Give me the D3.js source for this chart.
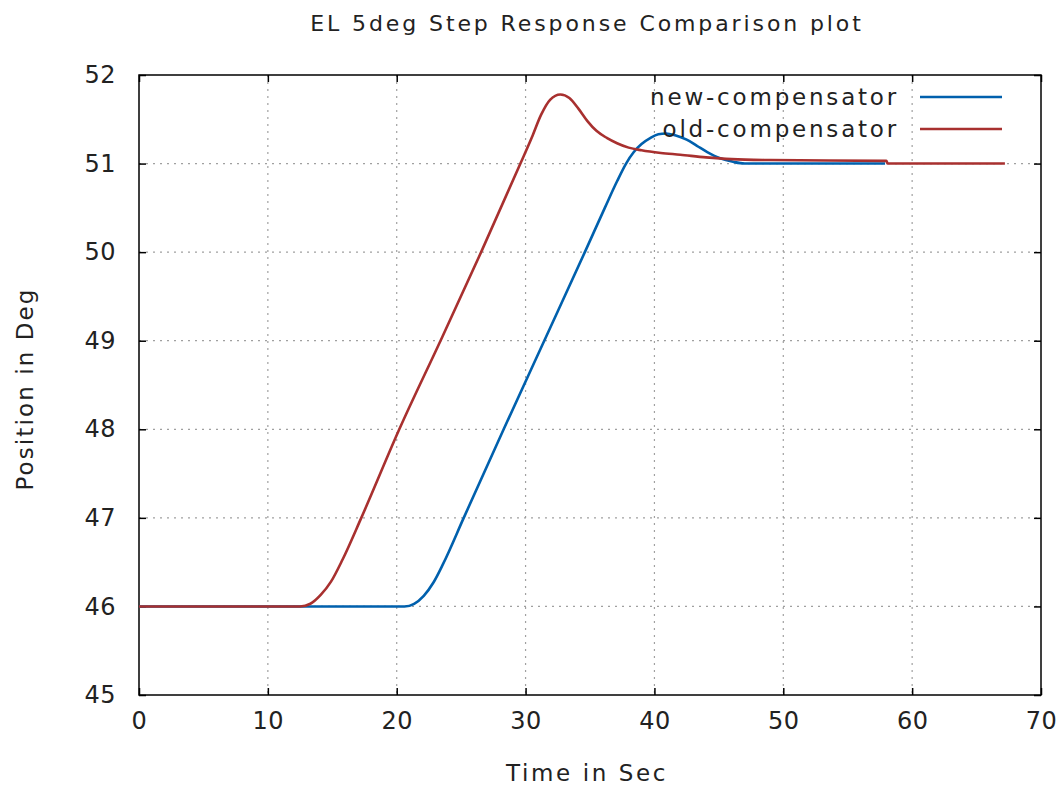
<!DOCTYPE html>
<html>
<head>
<meta charset="utf-8">
<script src="https://cdn.jsdelivr.net/npm/d3@7"></script>
<style>
  html, body { margin: 0; padding: 0; background: #fff; }
  svg { display: block; }
  text { font-family: "DejaVu Sans", sans-serif; fill: #222; }
</style>
</head>
<body>
<svg id="chart" width="1063" height="791"></svg>
<script>
const titleText = "EL 5deg Step Response Comparison plot";
const xLabel = "Time in Sec";
const yLabel = "Position in Deg";
const seriesNames = ["new-compensator", "old-compensator"];
const seriesColors = ["#0060ad", "#a8302f"];
const xTicks = [0, 10, 20, 30, 40, 50, 60, 70];
const yTicks = [45, 46, 47, 48, 49, 50, 51, 52];

const newTime = [0, 20.6, 21.35, 22.1, 22.85, 23.6, 25.2, 28.3, 31.45, 34.6, 36.15, 37.1, 37.8, 38.4, 39.0, 39.7, 40.3, 40.9, 41.6, 42.5, 43.3, 44.1, 45.1, 46.1, 47.0, 57.9];
const newVals = [46, 46, 46.03, 46.12, 46.27, 46.48, 47, 48, 49, 50, 50.5, 50.8, 51.0, 51.13, 51.22, 51.29, 51.33, 51.34, 51.32, 51.27, 51.2, 51.13, 51.06, 51.02, 51.0, 51.0];

const oldTime = [0, 12.5, 13.3, 14.1, 14.9, 15.8, 17.25, 20.2, 23.4, 26.55, 29.6, 30.5, 31.2, 31.9, 32.7, 33.4, 34.1, 34.8, 35.5, 36.3, 37.1, 38.0, 39.0, 40.5, 42.0, 44.0, 46.0, 49.0, 58.0, 58.1, 67.2];
const oldVals = [46, 46, 46.03, 46.13, 46.28, 46.53, 47, 48, 49, 50, 51, 51.3, 51.55, 51.72, 51.78, 51.74, 51.62, 51.48, 51.37, 51.29, 51.23, 51.18, 51.15, 51.12, 51.10, 51.07, 51.05, 51.04, 51.03, 51.0, 51.0];

const svg = d3.select("#chart");
const W = 1063, H = 791;
const m = { left: 139, right: 1041, top: 75, bottom: 695 };

svg.append("rect").attr("width", W).attr("height", H).attr("fill", "#fff");

const x = d3.scaleLinear().domain([0, 70]).range([m.left, m.right]);
const y = d3.scaleLinear().domain([45, 52]).range([m.bottom, m.top]);

// grid
const grid = svg.append("g");
grid.selectAll(".gx").data(xTicks.slice(1, -1)).enter().append("line")
  .attr("x1", d => x(d)).attr("x2", d => x(d))
  .attr("y1", m.top).attr("y2", m.bottom)
  .attr("stroke", "#a0a0a0").attr("stroke-width", 1.2).attr("stroke-dasharray", "2,5");
grid.selectAll(".gy").data(yTicks.slice(1, -1)).enter().append("line")
  .attr("y1", d => y(d)).attr("y2", d => y(d))
  .attr("x1", m.left).attr("x2", m.right)
  .attr("stroke", "#a0a0a0").attr("stroke-width", 1.2).attr("stroke-dasharray", "2,5");

// axes (inside ticks, mirrored)
const tickFont = "24px";
const axB = svg.append("g").attr("transform", `translate(0,${m.bottom})`)
  .call(d3.axisBottom(x).tickValues(xTicks).tickSize(-7).tickPadding(17).tickFormat(d3.format("d")));
const axT = svg.append("g").attr("transform", `translate(0,${m.top})`)
  .call(d3.axisTop(x).tickValues(xTicks).tickSize(-7).tickFormat(""));
const axL = svg.append("g").attr("transform", `translate(${m.left},0)`)
  .call(d3.axisLeft(y).tickValues(yTicks).tickSize(-7).tickPadding(23).tickFormat(d3.format("d")));
const axR = svg.append("g").attr("transform", `translate(${m.right},0)`)
  .call(d3.axisRight(y).tickValues(yTicks).tickSize(-7).tickFormat(""));
[axB, axT, axL, axR].forEach(g => {
  g.select(".domain").remove();
  g.selectAll(".tick line").attr("stroke", "#000").attr("stroke-width", 1.5);
  g.selectAll("text").style("font-family", "DejaVu Sans, sans-serif").style("font-size", tickFont)
    .attr("fill", "#222").style("letter-spacing", "0.5px");
});

// border
svg.append("rect").attr("x", m.left).attr("y", m.top)
  .attr("width", m.right - m.left).attr("height", m.bottom - m.top)
  .attr("fill", "none").attr("stroke", "#000").attr("stroke-width", 1.5);

// lines
const line = d3.line().x(d => x(d[0])).y(d => y(d[1])).curve(d3.curveMonotoneX);
const series = [
  { name: seriesNames[0], color: seriesColors[0], data: d3.zip(newTime, newVals) },
  { name: seriesNames[1], color: seriesColors[1], data: d3.zip(oldTime, oldVals) }
];
series.forEach(s => {
  svg.append("path").attr("d", line(s.data)).attr("fill", "none")
    .attr("stroke", s.color).attr("stroke-width", 2.6).attr("stroke-linejoin", "round");
});

// legend
const leg = svg.append("g");
series.forEach((s, i) => {
  const ly = 97 + i * 32;
  leg.append("text").attr("x", 899).attr("y", ly).attr("dy", "0.35em")
    .attr("text-anchor", "end").style("font-size", "23px").style("letter-spacing", "2.8px")
    .text(s.name);
  leg.append("line").attr("x1", 920).attr("x2", 1002).attr("y1", ly).attr("y2", ly)
    .attr("stroke", s.color).attr("stroke-width", 2.6);
});

// title & labels
svg.append("text").attr("x", 587).attr("y", 23).attr("dy", "0.35em").attr("text-anchor", "middle")
  .style("font-size", "22px").style("letter-spacing", "2.9px").text(titleText);
svg.append("text").attr("x", 587).attr("y", 773).attr("dy", "0.35em").attr("text-anchor", "middle")
  .style("font-size", "23px").style("letter-spacing", "2.6px").text(xLabel);
svg.append("text").attr("transform", "translate(25,389) rotate(-90)").attr("dy", "0.35em")
  .attr("text-anchor", "middle").style("font-size", "23px").style("letter-spacing", "2.1px").text(yLabel);
</script>
</body>
</html>
